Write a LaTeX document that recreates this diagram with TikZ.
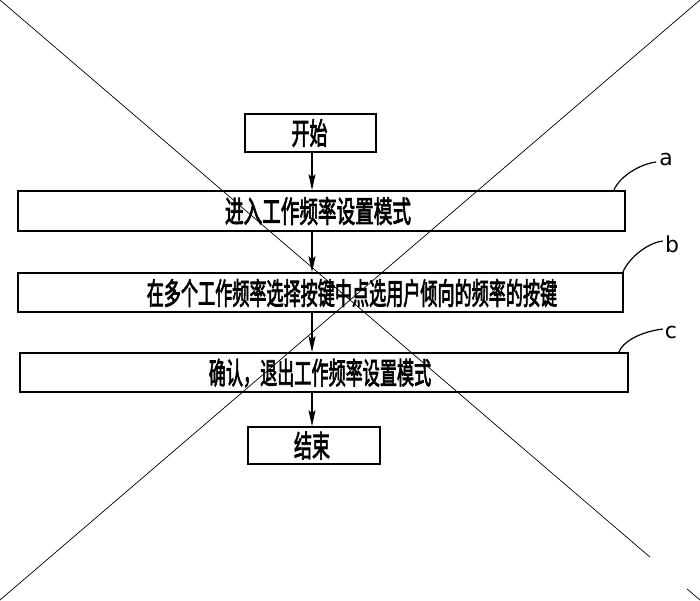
\documentclass[tikz,border=0pt]{standalone}
\usepackage{fontspec}
\newfontfamily\cjk[AutoFakeBold=3]{Noto Sans CJK SC}
\newfontfamily\latinlbl{DejaVu Sans}
\usetikzlibrary{arrows.meta}
\tikzset{
  boxst/.style={draw, line width=1.7pt, inner sep=0pt},
  txt/.style={inner sep=0pt, font=\cjk\bfseries\fontsize{30}{30}\selectfont},
  arr/.style={line width=1.2pt, -{Stealth[length=16pt,width=7pt,inset=3pt]}},
  lead/.style={line width=1.2pt},
  lbl/.style={inner sep=0pt, font=\latinlbl\fontsize{22}{22}\selectfont},
  xline/.style={line width=0.7pt}
}
\newcommand{\sq}[2][0.6]{\scalebox{#1}[1]{#2}}
\begin{document}
\begin{tikzpicture}[x=1pt,y=-1pt]
\useasboundingbox (0,0) rectangle (700,600);
% boxes
\node[boxst, minimum width=131pt, minimum height=38pt] (start) at (310.5,133) {};
\node[boxst, minimum width=607pt, minimum height=40pt] (a) at (321.5,211) {};
\node[boxst, minimum width=605pt, minimum height=39pt] (b) at (320.5,292.5) {};
\node[boxst, minimum width=608pt, minimum height=39pt] (c) at (324,372.5) {};
\node[boxst, minimum width=132pt, minimum height=37pt] (end) at (314,445.5) {};
% texts
\node[txt] (tstart) at (309.5,133) {\sq{开始}};
\node[txt] (ta) at (318,211) {\sq[0.62]{进入工作频率设置模式}};
\node[txt] (tb) at (352,293) {\sq[0.57]{在多个工作频率选择按键中点选用户倾向的频率的按键}};
\node[txt] (tc) at (320,373) {\sq[0.57]{确认，退出工作频率设置模式}};
\node[txt] (tend) at (312,445.5) {\sq{结束}};
% arrows
\coordinate (axis) at (312,0);
\draw[arr] (axis |- start.south) -- (axis |- a.north);
\draw[arr] (axis |- a.south) -- (axis |- b.north);
\draw[arr] (axis |- b.south) -- (axis |- c.north);
\draw[arr] (axis |- c.south) -- (axis |- end.north);
% labels and leaders
\node[lbl] (la) at (666,159) {a};
\node[lbl] (lb) at (672,244) {b};
\node[lbl] (lc) at (671,332) {c};
\draw[lead] ([xshift=-12pt]a.north east) .. controls +(6,-14) and +(-16,2) .. ([xshift=-3pt,yshift=-3pt]la.west);
\draw[lead] ([xshift=-1pt]b.north east) .. controls +(6,-14) and +(-16,2) .. ([xshift=-2pt,yshift=3pt]lb.west);
\draw[lead] ([xshift=-10pt]c.north east) .. controls +(6,-14) and +(-16,2) .. ([xshift=-2pt,yshift=3pt]lc.west);
% crossing lines
\coordinate (tl) at (0,0);
\coordinate (br) at (700,600);
\coordinate (tr) at (700,0);
\coordinate (bl) at (0,600);
\coordinate (g1) at (650,557.1);
\coordinate (g2) at (687,588.9);
\draw[xline] (tl) -- (g1);
\draw[xline] (g2) -- (br);
\draw[xline] (tr) -- (bl);
\end{tikzpicture}
\end{document}
